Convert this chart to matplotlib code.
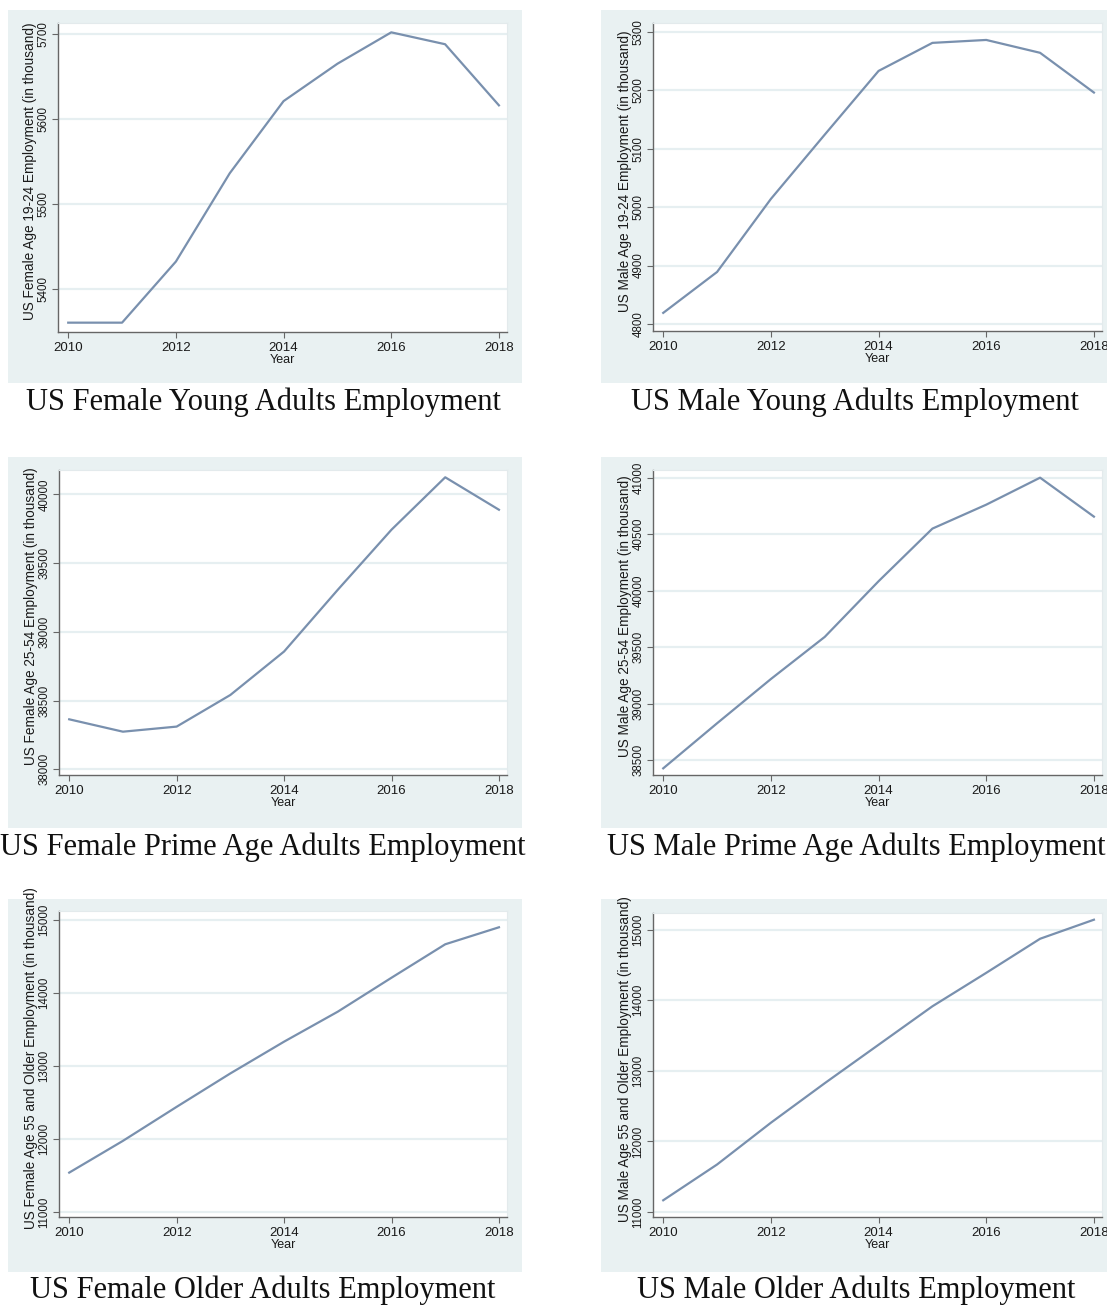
import matplotlib
matplotlib.use("Agg")
import matplotlib.pyplot as plt
from matplotlib.patches import Rectangle

plt.rcParams["font.family"] = ["Liberation Sans", "DejaVu Sans"]

W, H = 1107, 1306

years = [2010, 2011, 2012, 2013, 2014, 2015, 2016, 2017, 2018]

# employment in thousands
female_young = [5360, 5360, 5432, 5536, 5621, 5665, 5702, 5688, 5616]
male_young = [4819, 4889, 5014, 5124, 5233, 5281, 5286, 5264, 5196]
female_prime = [38364, 38274, 38311, 38541, 38857, 39306, 39743, 40124, 39888]
male_prime = [38426, 38825, 39217, 39590, 40083, 40549, 40761, 41000, 40655]
female_older = [11539, 11974, 12440, 12898, 13333, 13744, 14209, 14667, 14900]
male_older = [11166, 11673, 12265, 12825, 13370, 13915, 14389, 14872, 15142]

ylabels = [
    "US Female Age 19-24 Employment (in thousand)",
    "US Male Age 19-24 Employment (in thousand)",
    "US Female Age 25-54 Employment (in thousand)",
    "US Male Age 25-54 Employment (in thousand)",
    "US Female Age 55 and Older Employment (in thousand)",
    "US Male Age 55 and Older Employment (in thousand)",
]
titles = [
    "US Female Young Adults Employment",
    "US Male Young Adults Employment",
    "US Female Prime Age Adults Employment",
    "US Male Prime Age Adults Employment",
    "US Female Older Adults Employment",
    "US Male Older Adults Employment",
]
yticks = [
    range(5400, 5701, 100),
    range(4800, 5301, 100),
    range(38000, 40001, 500),
    range(38500, 41001, 500),
    range(11000, 15001, 1000),
    range(11000, 15001, 1000),
]
ylims = [(5349, 5713), (4788, 5315), (37959, 40177),
         (38367, 41068), (10931, 15123), (10929, 15237)]
series = [female_young, male_young, female_prime,
          male_prime, female_older, male_older]

# pixel boxes: (left, top, right, bottom)
boxes = [(8, 10, 522, 383), (601, 10, 1107, 383),
         (8, 457, 522, 828), (601, 457, 1107, 828),
         (8, 899, 522, 1272), (601, 899, 1107, 1272)]
axboxes = [(58, 23, 507, 332), (653, 23, 1102, 331),
           (59, 470, 507, 775), (653, 470, 1102, 775),
           (59, 911, 507, 1217), (653, 913, 1102, 1217)]
title_y = [402, 402, 847, 847, 1290, 1290]
title_x = [263, 855, 263, 856, 263, 856]

BG = "#e9f1f2"
LINE = "#7990ae"
TXT = "#1a1a1a"

fig = plt.figure(figsize=(W / 100, H / 100), dpi=100)
fig.patch.set_facecolor("white")


def frac(l, t, r, b):
    return [l / W, 1 - b / H, (r - l) / W, (b - t) / H]


for i in range(6):
    l, t, r, b = boxes[i]
    fig.patches.append(Rectangle((l / W, 1 - b / H), (r - l) / W, (b - t) / H,
                                 transform=fig.transFigure, facecolor=BG,
                                 edgecolor="none", zorder=0))

    ax = fig.add_axes(frac(*axboxes[i]))
    ax.set_zorder(2)
    ax.set_facecolor("white")
    ax.plot(years, series[i], color=LINE, lw=1.6, zorder=3)
    ax.set_xlim(2009.81, 2018.15)
    ax.set_ylim(*ylims[i])
    ax.set_xticks(range(2010, 2019, 2))
    ax.set_yticks(list(yticks[i]))
    ax.yaxis.grid(True, color="#e6eff1", lw=1.6)
    ax.set_axisbelow(True)

    for s in ["top", "right"]:
        ax.spines[s].set_color("#e3eaec")
        ax.spines[s].set_linewidth(0.8)
    for s in ["left", "bottom"]:
        ax.spines[s].set_color("#666666")
        ax.spines[s].set_linewidth(1.0)

    ax.tick_params(axis="both", direction="out", length=4, width=0.8,
                   color="#666666", labelcolor=TXT)
    ax.tick_params(axis="x", labelsize=9.5, pad=3)
    ax.tick_params(axis="y", labelsize=8.3, pad=2)
    plt.setp(ax.get_yticklabels(), rotation=90, va="center", ha="right")

    ax.set_xlabel("Year", fontsize=9, color=TXT, labelpad=0)
    ax.set_ylabel(ylabels[i], fontsize=9.8, color=TXT)
    ax.yaxis.set_label_coords(-0.047, 0.52)

    fig.text(title_x[i] / W, 1 - title_y[i] / H, titles[i],
             family="Liberation Serif", fontsize=22, color="#111111",
             ha="center", va="center")

fig.savefig("out.png", dpi=100, facecolor="white")
